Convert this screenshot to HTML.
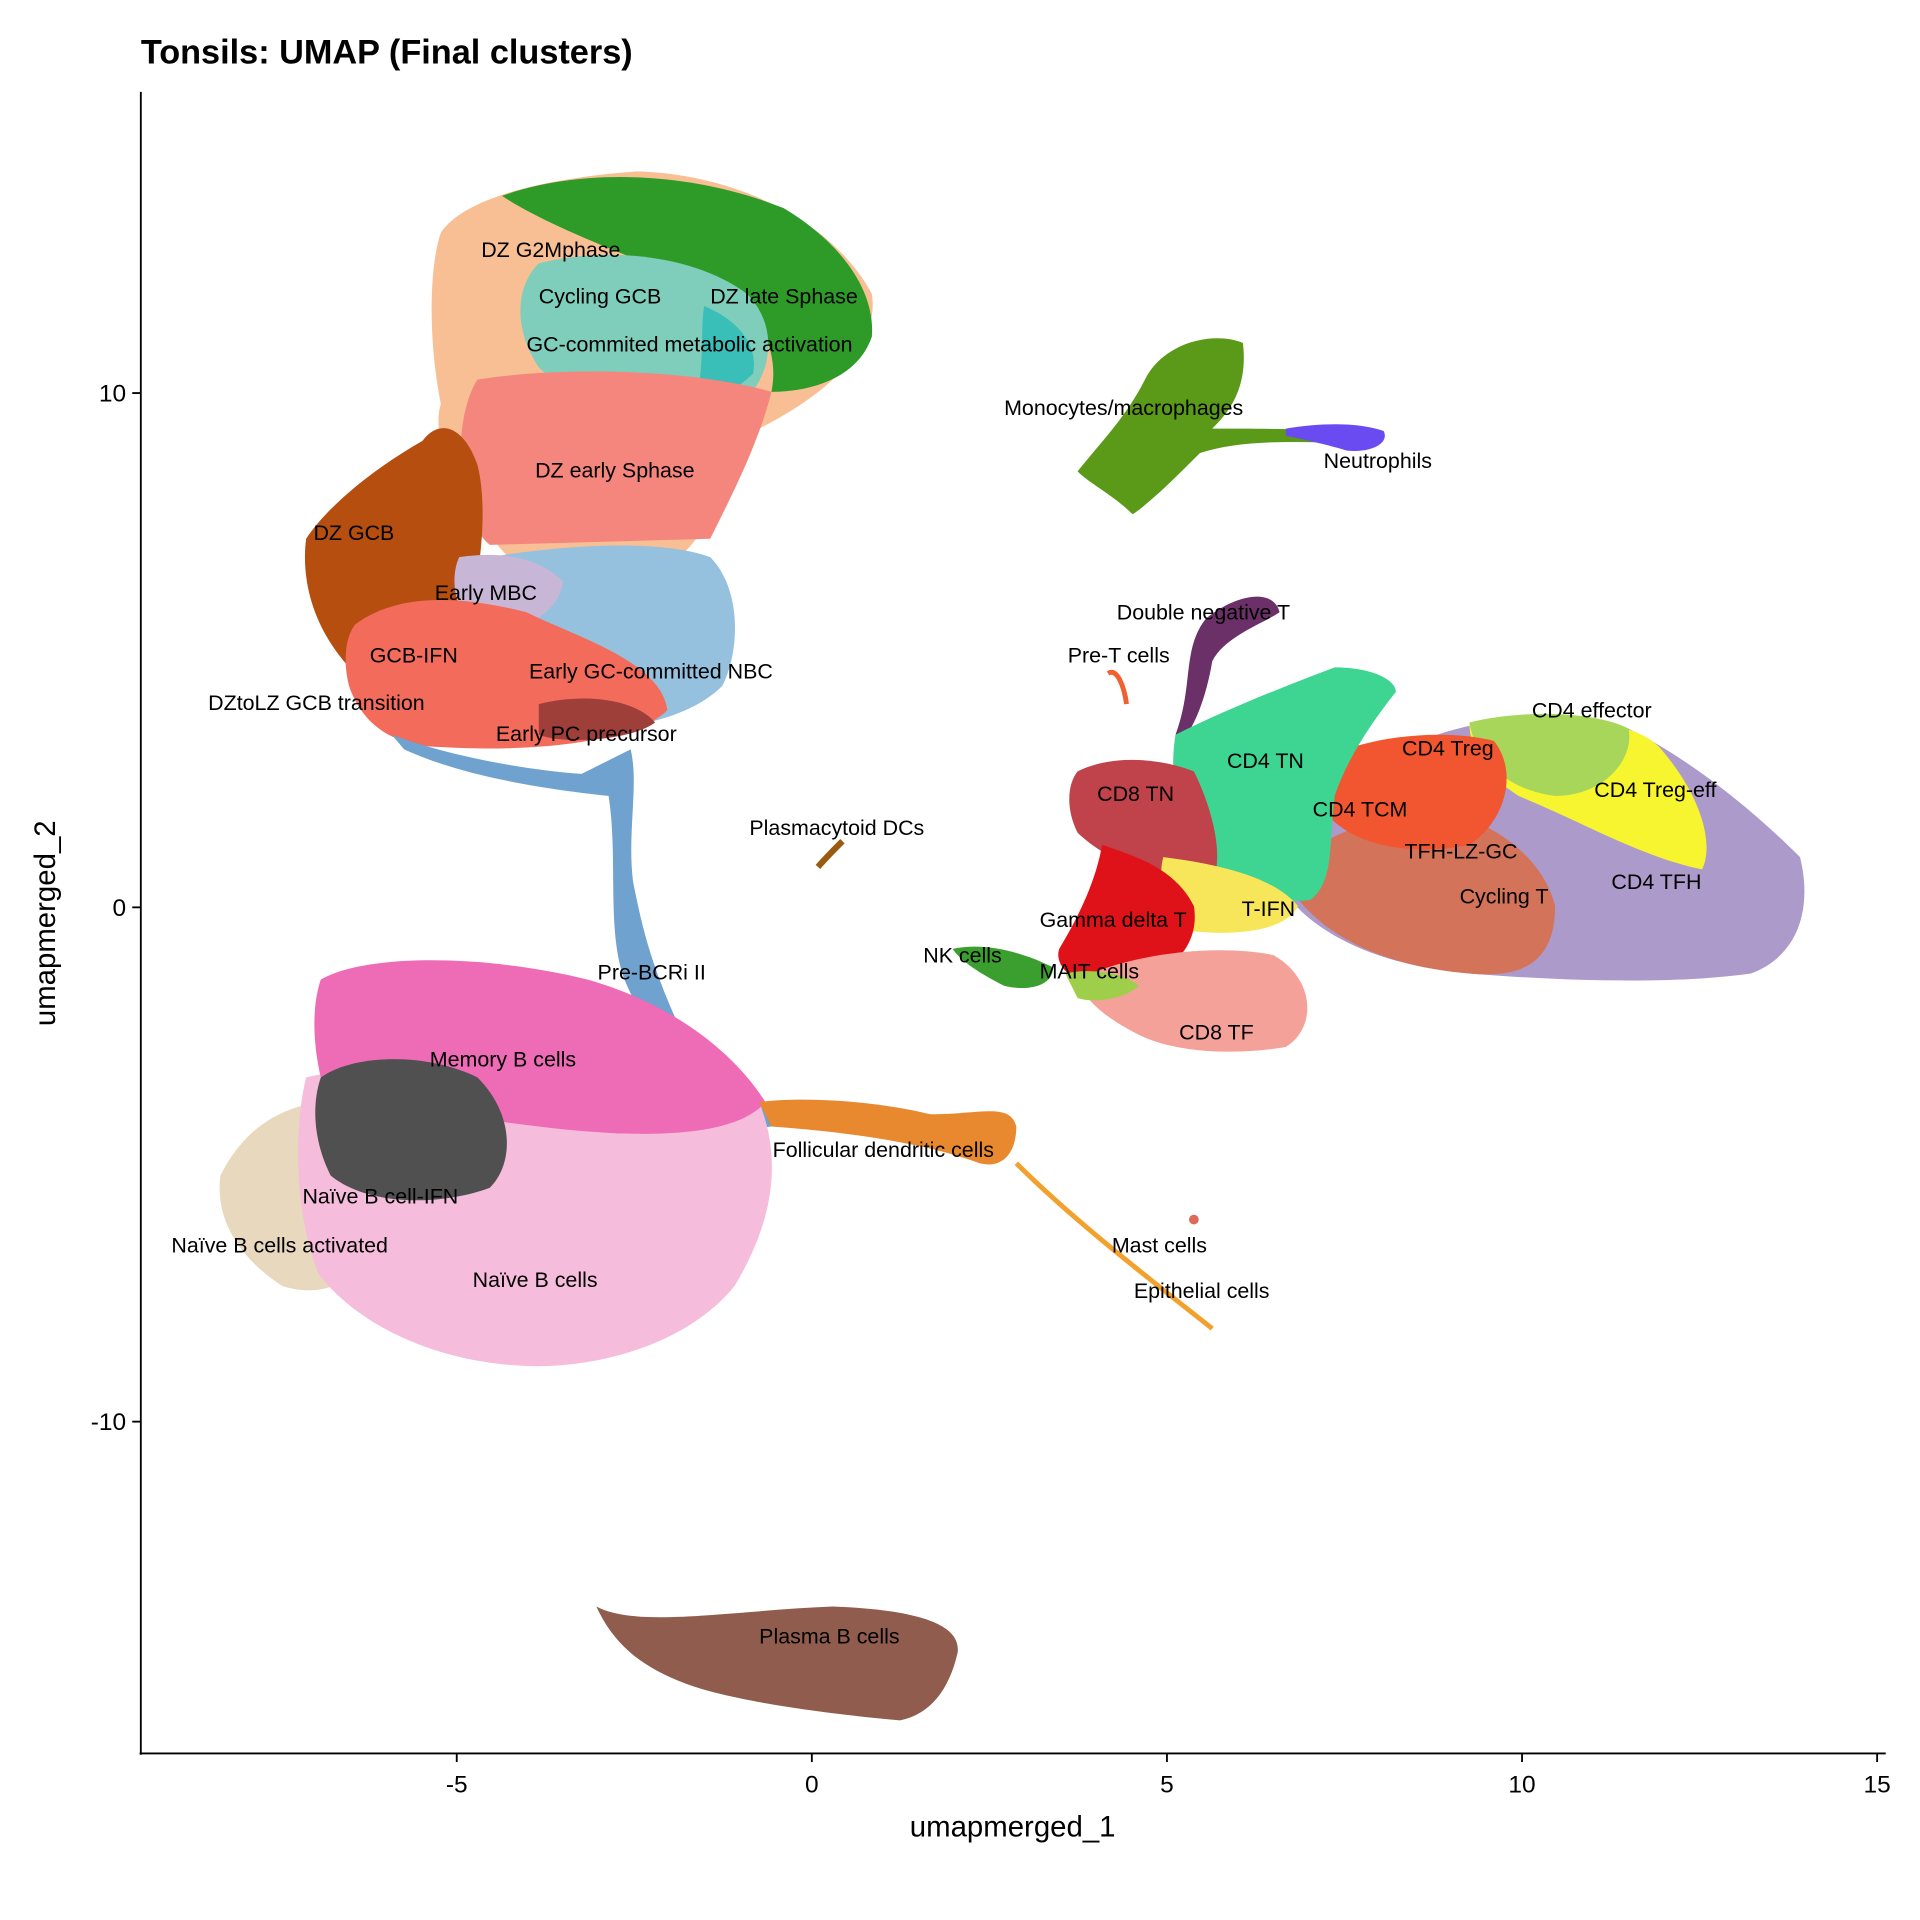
<!DOCTYPE html>
<html><head><meta charset="utf-8"><style>html,body{margin:0;padding:0;background:#fff}svg{display:block}</style></head>
<body>
<svg width="1920" height="1920" viewBox="0 0 1568 1568" xmlns="http://www.w3.org/2000/svg" font-family="Liberation Sans, Arial, sans-serif">
<rect width="1568" height="1568" fill="#fff"/>
<!-- GC top cluster -->
<path d="M360,190 C380,160 450,145 520,140 C600,142 680,180 712,240 C720,290 660,330 620,350 C590,400 580,430 560,450 L420,460 C380,420 350,360 360,330 C350,280 350,220 360,190Z" fill="#F8BF95"/>
<path d="M410,160 C470,138 560,138 640,170 C690,200 715,240 712,275 C700,310 660,320 630,320 C640,270 600,230 540,220 C490,200 440,180 410,160Z" fill="#2E9A28"/>
<path d="M440,215 C500,200 570,210 610,240 C640,270 630,320 590,340 C540,345 470,330 440,300 C420,270 420,235 440,215Z" fill="#7FCDBB"/>
<path d="M575,250 C600,260 620,280 615,305 C600,320 585,325 570,318 C575,295 572,270 575,250Z" fill="#3ABFB8"/>
<path d="M390,310 C450,300 560,300 630,320 C620,360 600,400 580,440 L400,445 C370,420 370,340 390,310Z" fill="#F4867E"/>
<path d="M250,440 C270,410 310,380 345,360 C360,340 380,350 390,380 C400,420 390,480 380,520 C360,560 320,570 290,550 C260,520 245,480 250,440Z" fill="#B54E0F"/>
<path d="M400,455 C460,445 540,440 580,455 C605,480 605,530 590,560 C560,590 500,600 440,595 C400,580 390,500 400,455Z" fill="#95C1DE"/>
<path d="M375,455 C410,450 440,455 460,475 C455,505 420,520 385,510 C370,495 368,470 375,455Z" fill="#C7B6D6"/>
<path d="M290,510 C330,480 390,490 430,500 C470,520 540,540 545,580 C520,605 440,615 360,610 C320,610 295,590 285,560 C280,540 282,520 290,510Z" fill="#F36B5B"/>
<path d="M440,575 C480,565 520,572 535,590 C515,605 460,608 440,600Z" fill="#9E3F3A"/>
<path d="M320,600 C360,615 420,628 475,632 L515,612 C522,640 512,680 517,720 C525,760 532,790 560,850 C600,880 630,900 630,920 L615,922 C575,900 535,860 510,800 C495,760 505,700 497,650 C450,645 380,635 330,612Z" fill="#6FA2CE"/>
<!-- B cell cluster -->
<path d="M180,960 C200,920 230,905 260,900 L300,1020 C290,1050 260,1060 230,1050 C200,1030 175,1000 180,960Z" fill="#E8D8BE"/>
<path d="M250,880 C330,860 500,870 620,900 C640,950 630,1000 600,1050 C560,1100 480,1120 420,1115 C350,1110 290,1080 260,1040 C240,990 240,920 250,880Z" fill="#F6BCDC"/>
<path d="M262,800 C300,778 400,780 480,800 C550,820 600,860 625,900 C600,930 520,930 440,920 C360,910 290,900 262,880 C255,850 255,820 262,800Z" fill="#EE6BB6"/>
<path d="M262,880 C290,860 350,860 390,880 C420,910 420,950 400,970 C360,985 300,985 270,960 C255,930 255,900 262,880Z" fill="#505050"/>
<!-- FDC strand -->
<path d="M620,900 C660,895 720,900 760,910 C800,910 825,900 830,920 C830,940 820,955 800,950 C760,935 700,925 630,920Z" fill="#E8892F"/>
<path d="M830,950 C870,990 920,1030 990,1085" stroke="#F2A12D" stroke-width="4" fill="none"/>
<circle cx="975" cy="996" r="4" fill="#E06A5A"/>
<!-- Plasma -->
<path d="M487,1312 C520,1330 600,1315 680,1312 C760,1315 785,1330 782,1350 C775,1380 760,1400 735,1405 C680,1400 600,1390 560,1375 C520,1360 500,1340 487,1312Z" fill="#8F5C4D"/>
<!-- Monocytes / neutrophils -->
<path d="M880,385 C900,360 920,340 935,310 C950,280 990,270 1015,280 C1020,320 1000,340 990,350 C1020,350 1060,350 1100,352 L1100,362 C1050,360 1010,360 980,370 C960,390 940,410 925,420 C910,405 890,395 880,385Z" fill="#5A9A18"/>
<path d="M1050,350 C1080,345 1110,345 1130,352 C1135,362 1120,370 1100,368 C1080,362 1060,358 1050,356Z" fill="#6A4BF2"/>
<!-- T cell cluster -->
<path d="M960,600 C975,560 965,530 985,505 C1010,485 1040,480 1045,500 C1030,510 1000,520 990,540 C985,570 975,595 965,605Z" fill="#6B3068"/>
<path d="M905,550 C912,545 918,560 920,575" stroke="#F06030" stroke-width="4" fill="none"/>
<path d="M1050,730 C1060,690 1100,650 1150,610 C1200,585 1270,580 1330,595 C1380,620 1430,660 1470,700 C1480,740 1470,780 1430,795 C1360,805 1260,800 1200,795 C1140,790 1080,770 1050,730Z" fill="#AC9ACA"/>
<path d="M1200,590 C1260,582 1330,585 1355,610 C1390,650 1400,690 1390,710 C1340,700 1290,670 1240,650 C1210,630 1200,610 1200,590Z" fill="#F7F530"/>
<path d="M1200,590 C1240,580 1300,580 1330,595 C1335,620 1310,650 1270,650 C1230,645 1205,620 1200,590Z" fill="#A7D65A"/>
<path d="M1050,720 C1060,690 1110,670 1170,660 C1220,670 1260,700 1270,740 C1270,780 1250,800 1200,795 C1140,790 1080,770 1050,720Z" fill="#D3745A"/>
<path d="M1080,620 C1120,600 1180,595 1220,605 C1240,630 1230,670 1200,690 C1150,700 1100,690 1080,660Z" fill="#F25630"/>
<path d="M960,600 C1000,580 1050,560 1090,545 C1120,545 1140,555 1140,565 C1120,590 1100,620 1090,650 C1085,690 1090,720 1070,735 C1030,740 990,720 975,690 C960,660 955,630 960,600Z" fill="#3ED492"/>
<path d="M880,630 C910,615 950,620 975,630 C990,660 1000,700 990,720 C950,725 900,700 880,680 C870,660 872,640 880,630Z" fill="#C0424A"/>
<path d="M950,700 C990,705 1040,715 1060,740 C1050,760 1010,765 970,760 C950,740 945,720 950,700Z" fill="#F7E65A"/>
<path d="M900,690 C930,700 960,710 975,740 C980,770 960,795 920,805 C880,810 860,790 865,775 C880,750 895,720 900,690Z" fill="#DF1219"/>
<path d="M880,800 C920,780 990,770 1040,780 C1075,800 1075,840 1050,855 C1010,862 960,860 930,845 C900,830 885,815 880,800Z" fill="#F4A19A"/>
<path d="M870,795 C890,790 920,795 930,805 C920,815 895,820 880,815Z" fill="#9FCF4A"/>
<path d="M778,775 C800,770 830,775 860,790 C860,805 840,810 820,805 C800,795 785,785 778,775Z" fill="#3A9F2E"/>
<path d="M668,708 C675,700 682,693 688,687" stroke="#9A5A10" stroke-width="5" fill="none"/>
<!-- axes -->
<line x1="115" y1="75" x2="115" y2="1433" stroke="#000" stroke-width="1.5"/>
<line x1="114" y1="1432" x2="1540" y2="1432" stroke="#000" stroke-width="1.5"/>
<g stroke="#000" stroke-width="1.5">
<line x1="373" y1="1432" x2="373" y2="1439"/><line x1="663" y1="1432" x2="663" y2="1439"/><line x1="953" y1="1432" x2="953" y2="1439"/><line x1="1243" y1="1432" x2="1243" y2="1439"/><line x1="1533" y1="1432" x2="1533" y2="1439"/>
<line x1="108" y1="321" x2="115" y2="321"/><line x1="108" y1="741" x2="115" y2="741"/><line x1="108" y1="1161" x2="115" y2="1161"/>
</g>
<g font-size="20" fill="#000">
<text x="373" y="1464" text-anchor="middle">-5</text><text x="663" y="1464" text-anchor="middle">0</text><text x="953" y="1464" text-anchor="middle">5</text><text x="1243" y="1464" text-anchor="middle">10</text><text x="1533" y="1464" text-anchor="middle">15</text>
<text x="103" y="328" text-anchor="end">10</text><text x="103" y="748" text-anchor="end">0</text><text x="103" y="1168" text-anchor="end">-10</text>
</g>
<text x="827" y="1500" font-size="24" text-anchor="middle">umapmerged_1</text>
<text transform="translate(45,754) rotate(-90)" font-size="24" text-anchor="middle">umapmerged_2</text>
<text x="115" y="52" font-size="28" font-weight="bold">Tonsils: UMAP (Final clusters)</text>
<g font-size="17.5" fill="#000">
<text x="393" y="210">DZ G2Mphase</text><text x="440" y="248">Cycling GCB</text><text x="580" y="248">DZ late Sphase</text>
<text x="430" y="287">GC-commited metabolic activation</text><text x="437" y="390">DZ early  Sphase</text>
<text x="256" y="441">DZ GCB</text><text x="355" y="490">Early MBC</text><text x="302" y="541">GCB-IFN</text>
<text x="432" y="554">Early GC-committed NBC</text><text x="170" y="580">DZtoLZ GCB transition</text>
<text x="405" y="605">Early PC precursor</text><text x="488" y="800">Pre-BCRi II</text>
<text x="351" y="871">Memory B cells</text><text x="631" y="945">Follicular dendritic cells</text>
<text x="247" y="983">Naïve B cell-IFN</text><text x="140" y="1023">Naïve B cells activated</text><text x="386" y="1051">Naïve B cells</text>
<text x="620" y="1342">Plasma B cells</text>
<text x="820" y="339">Monocytes/macrophages</text><text x="1081" y="382">Neutrophils</text>
<text x="912" y="506">Double negative T</text><text x="872" y="541">Pre-T cells</text>
<text x="612" y="682">Plasmacytoid DCs</text>
<text x="1251" y="586">CD4 effector</text><text x="1145" y="617">CD4 Treg</text><text x="1002" y="627">CD4 TN</text>
<text x="896" y="654">CD8 TN</text><text x="1302" y="651">CD4 Treg-eff</text><text x="1072" y="667">CD4 TCM</text>
<text x="1147" y="701">TFH-LZ-GC</text><text x="1316" y="726">CD4 TFH</text><text x="1192" y="738">Cycling T</text>
<text x="1014" y="748">T-IFN</text><text x="849" y="757">Gamma delta T</text><text x="754" y="786">NK cells</text>
<text x="849" y="799">MAIT cells</text><text x="963" y="849">CD8 TF</text>
<text x="908" y="1023">Mast cells</text><text x="926" y="1060">Epithelial cells</text>
</g>
</svg>
</body></html>
